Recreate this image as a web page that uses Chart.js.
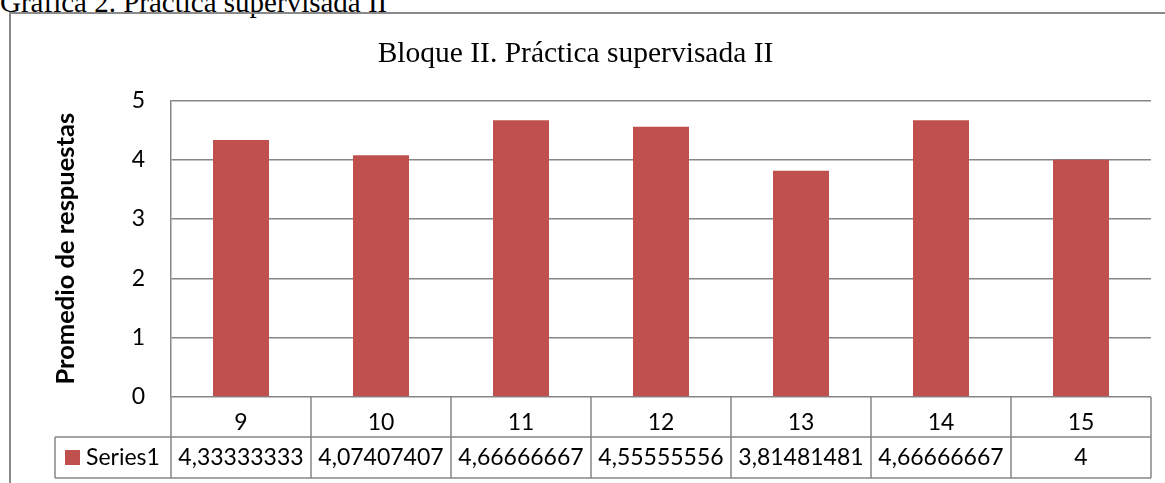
<!DOCTYPE html>
<html>
<head>
<meta charset="utf-8">
<script src="https://cdn.jsdelivr.net/npm/chart.js@4.4.1/dist/chart.umd.min.js"></script>
<style>
body{margin:0;width:1165px;height:483px;overflow:hidden;background:#fff;position:relative}
#cap{position:absolute;left:0;top:-12px;font:29px/29px "Liberation Serif";white-space:nowrap;color:#000}
#frame{position:absolute;left:9px;top:12px;width:1170px;height:490px;border-left:2px solid #8a8a8a;border-top:2px solid #8a8a8a}
#wrap{position:absolute;left:0;top:0;width:1165px;height:483px}
</style>
</head>
<body>
<div id="cap">Gráfica 2. Práctica supervisada II</div>
<div id="frame"></div>
<div id="wrap"><canvas id="mycanvas"></canvas></div>
<script>
var categorias = ['9', '10', '11', '12', '13', '14', '15'];
var promedios = [4.33333333, 4.07407407, 4.66666667, 4.55555556, 3.81481481, 4.66666667, 4];
var valoresTabla = ['4,33333333', '4,07407407', '4,66666667', '4,55555556', '3,81481481', '4,66666667', '4'];
var ticksY = [0, 1, 2, 3, 4, 5];

var rojo = '#C0504D';
var gris = '#868686';
var letra = 'Lato';

// tabla de datos debajo del eje x
var tablaDatos = {
	id: 'tablaDatos',
	afterDraw: function(chart) {
		var ctx = chart.ctx;
		var x = chart.scales.x;
		var area = chart.chartArea;
		var n = categorias.length;
		var w = (area.right - area.left) / n;
		var y0 = area.bottom;
		var y1 = y0 + 40;
		var y2 = y0 + 81;
		var xLeyenda = 55;

		ctx.save();
		ctx.strokeStyle = gris;
		ctx.lineWidth = 1.5;
		ctx.beginPath();
		ctx.moveTo(xLeyenda, y1); ctx.lineTo(area.right, y1);
		ctx.moveTo(xLeyenda, y2); ctx.lineTo(area.right, y2);
		ctx.moveTo(xLeyenda, y1); ctx.lineTo(xLeyenda, y2);
		for (var i = 0; i <= n; i++) {
			var px = (i < n) ? x.getPixelForValue(i) - w / 2 : x.getPixelForValue(n - 1) + w / 2;
			ctx.moveTo(px, y0); ctx.lineTo(px, y2);
		}
		ctx.stroke();

		ctx.fillStyle = rojo;
		ctx.fillRect(65, y1 + 13, 15, 15);

		ctx.fillStyle = '#000';
		ctx.font = '23px ' + letra;
		ctx.textBaseline = 'middle';
		ctx.textAlign = 'left';
		ctx.fillText('Series1', 86, (y1 + y2) / 2);
		ctx.textAlign = 'center';
		for (var j = 0; j < n; j++) {
			ctx.fillText(valoresTabla[j], x.getPixelForValue(j), (y1 + y2) / 2);
		}
		ctx.restore();
	}
};

var ctx = document.getElementById('mycanvas');

var barGraph = new Chart(ctx, {
	type: 'bar',
	data: {
		labels: categorias,
		datasets: [{
			label: 'Series1',
			backgroundColor: rojo,
			data: promedios,
			barPercentage: 0.4,
			categoryPercentage: 1
		}]
	},
	plugins: [tablaDatos],
	options: {
		responsive: true,
		maintainAspectRatio: false,
		animation: false,
		layout: { padding: { left: 0, right: 14, top: 0, bottom: 0 } },
		plugins: {
			legend: { display: false },
			tooltip: { enabled: false },
			title: {
				display: true,
				text: 'Bloque II. Práctica supervisada II',
				color: '#000',
				font: { family: 'Liberation Serif', size: 29.5, weight: 'normal' },
				padding: { top: 37, bottom: 28 }
			}
		},
		scales: {
			x: {
				grid: { display: false },
				border: { display: false },
				ticks: { color: '#000', font: { family: letra, size: 23 }, padding: 4, maxRotation: 0 },
				afterFit: function(s) { s.height = 86; }
			},
			y: {
				min: 0,
				max: 5,
				afterBuildTicks: function(s) { s.ticks = ticksY.map(function(v) { return { value: v }; }); },
				grid: { color: gris, lineWidth: 1.5, drawTicks: false },
				border: { color: gris, width: 1.5 },
				ticks: { color: '#000', font: { family: letra, size: 23 }, padding: 26 },
				title: {
					display: true,
					text: 'Promedio de respuestas',
					color: '#000',
					font: { family: letra, size: 25.5, weight: 'bold' },
					padding: { top: 50, bottom: 0 }
				},
				afterFit: function(s) { s.width = 171; }
			}
		}
	}
});
</script>
</body>
</html>
